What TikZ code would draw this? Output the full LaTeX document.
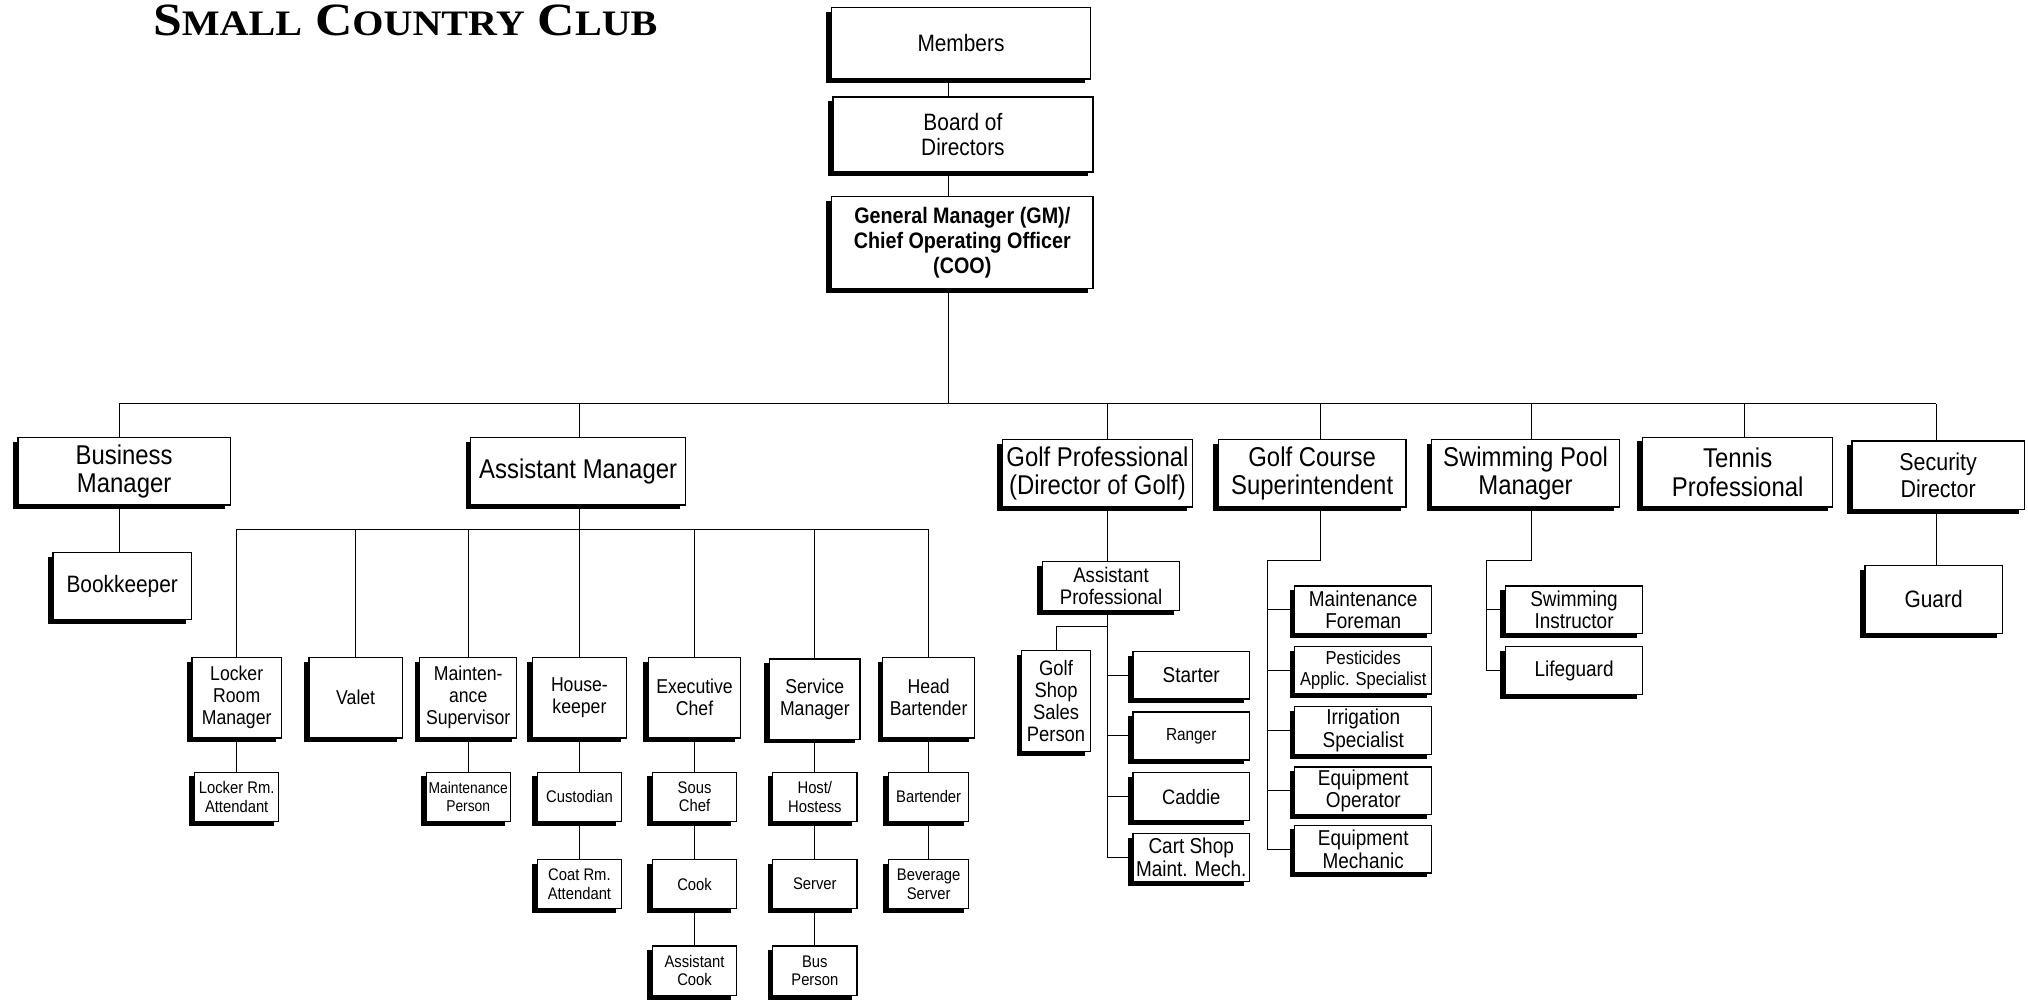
\documentclass[tikz,border=0pt]{standalone}
\usepackage{graphicx}
\usepackage{fontspec}
\setmainfont{Liberation Sans}[FakeStretch=0.88]
\newfontfamily\titlefont{Liberation Serif}
\usetikzlibrary{positioning}
\usetikzlibrary{shadows}
\newcommand\fs[2]{\fontsize{#1}{#2}\selectfont}
\newcommand\smcap[1]{{\fs{15.5}{15}#1}}
\tikzset{job/.style={draw, fill=white, line width=0.6pt, align=center, inner sep=0pt,
  drop shadow={shadow xshift=-2.4pt, shadow yshift=-2pt, fill=black, opacity=1}}}
\tikzset{sz/.style 2 args={minimum width=#1*0.6pt, minimum height=#2*0.6pt}}
\tikzset{link/.style={line width=0.45pt}}
\tikzset{lvtwo/.style={font=\fs{12.6}{13.2}}}
\tikzset{lvthree/.style={font=\fs{9.3}{10.2}}}
\tikzset{lvfour/.style={sz={65}{38}, font=\fs{7.8}{8.6}}}
\tikzset{lvside/.style={sz={106}{37}, font=\fs{10}{10.5}}}

\begin{document}
\begin{tikzpicture}[x=0.6pt, y=-0.6pt, on grid]
        \useasboundingbox (0,0) rectangle (1568,775);

        \node[anchor=south west, inner sep=0pt] (title) at (118,28)
          {\resizebox{234pt}{14.2pt}{\titlefont\bfseries\fs{20}{20}S\smcap{MALL} C\smcap{OUNTRY} C\smcap{LUB}}};

        % top of the chart
        \node[job, sz={200}{55}, font=\fs{11}{12}] (members) at (743,33.5) {Members};
        \node[job, sz={201}{58}, font=\fs{11}{12}] (board) at (744.5,104) {Board of\\Directors};
        \node[job, sz={202}{71}, font=\bfseries\fs{10.4}{11.7}] (gm) at (744,187.5) {General Manager (GM)/\\Chief Operating Officer\\(COO)};

        % department heads
        \node[job, lvtwo, sz={164}{52}] (bm) at (96,364.5) {Business\\Manager};
        \node[job, lvtwo, sz={166}{52}] (am) at (447,364.5) {Assistant Manager};
        \node[job, lvtwo, sz={147}{52}] (gp) at (848.5,366) {Golf Professional\\(Director of Golf)};
        \node[job, lvtwo, sz={145}{52}] (gcs) at (1014.5,366) {Golf Course\\Superintendent};
        \node[job, lvtwo, sz={145}{52}] (spm) at (1179.5,366) {Swimming Pool\\Manager};
        \node[job, lvtwo, sz={147}{54}] (tp) at (1343.5,365) {Tennis\\Professional};
        \node[job, sz={133}{53}, font=\fs{11.3}{12.4}] (sd) at (1498.5,367.5) {Security\\Director};

        \node[job, sz={107}{52}, font=\fs{11}{12}] (bk) at (94.5,453) {Bookkeeper};
        \node[job, sz={106}{53}, font=\fs{11}{12}] (guard) at (1495,463.5) {Guard};

        % clubhouse staff
        \node[job, lvthree, sz={69}{62}] (lrm) at (183,539.5) {Locker\\Room\\Manager};
        \node[job, lvthree, sz={72}{62}] (valet) at (275,539.5) {Valet};
        \node[job, lvthree, sz={75}{62}] (ms) at (362,539.5) {Mainten-\\ance\\Supervisor};
        \node[job, lvthree, sz={73}{62}] (hk) at (448,539.5) {House-\\keeper};
        \node[job, lvthree, sz={71}{62}] (ec) at (537,539.5) {Executive\\Chef};
        \node[job, lvthree, sz={70}{62}] (sm) at (630,540.5) {Service\\Manager};
        \node[job, lvthree, sz={71}{62}] (hb) at (718,539.5) {Head\\Bartender};

        \node[job, lvfour, below=45.9pt of lrm] (lra) {Locker Rm.\\Attendant};
        \node[job, lvfour, font=\fs{7.3}{8.3}, below=45.9pt of ms] (mp) {Maintenance\\Person};
        \node[job, lvfour, below=45.9pt of hk] (cust) {Custodian};
        \node[job, lvfour, below=40.5pt of cust] (coat) {Coat Rm.\\Attendant};
        \node[job, lvfour, below=45.9pt of ec] (sous) {Sous\\Chef};
        \node[job, lvfour, below=40.5pt of sous] (cook) {Cook};
        \node[job, lvfour, below=40.2pt of cook] (acook) {Assistant\\Cook};
        \node[job, lvfour, below=45.3pt of sm] (host) {Host/\\Hostess};
        \node[job, lvfour, below=40.5pt of host] (server) {Server};
        \node[job, lvfour, below=40.2pt of server] (bus) {Bus\\Person};
        \node[job, lvfour, sz={62}{38}, below=45.9pt of hb] (bart) {Bartender};
        \node[job, lvfour, sz={62}{38}, below=40.5pt of bart] (bev) {Beverage\\Server};

        % golf
        \node[job, sz={106}{38}, font=\fs{9.8}{10.2}] (ap) at (859,453) {Assistant\\Professional};
        \node[job, sz={53}{78}, font=\fs{9.7}{10.2}] (gss) at (816.5,542) {Golf\\Shop\\Sales\\Person};
        \node[job, lvside, sz={90}{37}] (starter) at (921,522) {Starter};
        \node[job, lvside, sz={90}{37}, font=\fs{8.1}{9}, below=28.2pt of starter] (ranger) {Ranger};
        \node[job, lvside, sz={90}{37}, font=\fs{9.7}{10}, below=28.2pt of ranger] (caddie) {Caddie};
        \node[job, lvside, sz={90}{37}, below=28.2pt of caddie] (cart) {Cart Shop\\Maint. Mech.};

        \node[job, lvside] (mfore) at (1054,471.5) {Maintenance\\Foreman};
        \node[job, lvside, font=\fs{8.7}{9.6}, below=28pt of mfore] (pest) {Pesticides\\Applic. Specialist};
        \node[job, lvside, below=28pt of pest] (irr) {Irrigation\\Specialist};
        \node[job, lvside, below=28pt of irr] (eqop) {Equipment\\Operator};
        \node[job, lvside, below=27pt of eqop] (eqmech) {Equipment\\Mechanic};

        % pool
        \node[job, lvside] (swins) at (1217,471.5) {Swimming\\Instructor};
        \node[job, lvside, below=28.2pt of swins] (life) {Lifeguard};

        % lines
        \coordinate (trunk) at (733,312);
        \draw[link] (members.south -| trunk) -- (board.north -| trunk);
        \draw[link] (board.south -| trunk) -- (gm.north -| trunk);
        \draw[link] (gm.south -| trunk) -- (trunk);

        \coordinate (x bm) at (92,312);
        \coordinate (x am) at (448,312);
        \coordinate (x gp) at (856,312);
        \coordinate (x gcs) at (1021,312);
        \coordinate (x spm) at (1184,312);
        \coordinate (x tp) at (1349,312);
        \coordinate (x sd) at (1497,312);
        \draw[link] (x bm) -- (x sd);
        \foreach \n in {bm,am,gp,gcs,spm,tp,sd}
          \draw[link] (x \n) -- (\n.north -| x \n);

        \draw[link] (bm.south -| x bm) -- (bk.north -| x bm);
        \draw[link] (sd.south -| x sd) -- (guard.north -| x sd);

        \coordinate (am bar) at (448,409);
        \draw[link] (am.south -| am bar) -- (am bar);
        \draw[link] (lrm.north |- am bar) -- (hb.north |- am bar);
        \foreach \n in {lrm,valet,ms,hk,ec,sm,hb}
          \draw[link] (\n.north |- am bar) -- (\n.north);
        \foreach \a/\b in {lrm/lra, ms/mp, hk/cust, cust/coat, ec/sous, sous/cook, cook/acook,
                           sm/host, host/server, server/bus, hb/bart, bart/bev}
          \draw[link] (\a) -- (\b);

        \coordinate (gss fork) at (856,484);
        \draw[link] (gp.south -| x gp) -- (ap.north -| x gp);
        \draw[link] (ap.south -| x gp) -- (cart.west -| x gp) -- (cart.west);
        \draw[link] (gss fork) -| (gss.north);
        \foreach \n in {starter,ranger,caddie}
          \draw[link] (\n.west -| x gp) -- (\n.west);

        \coordinate (gcs fork) at (980,433);
        \draw[link] (gcs.south -| x gcs) -- (x gcs |- gcs fork) -- (gcs fork) -- (gcs fork |- eqmech.west) -- (eqmech.west);
        \foreach \n in {mfore,pest,irr,eqop}
          \draw[link] (\n.west -| gcs fork) -- (\n.west);

        \coordinate (spm fork) at (1149,433);
        \draw[link] (spm.south -| x spm) -- (x spm |- spm fork) -- (spm fork) -- (spm fork |- life.west) -- (life.west);
        \draw[link] (swins.west -| spm fork) -- (swins.west);
\end{tikzpicture}
\end{document}
